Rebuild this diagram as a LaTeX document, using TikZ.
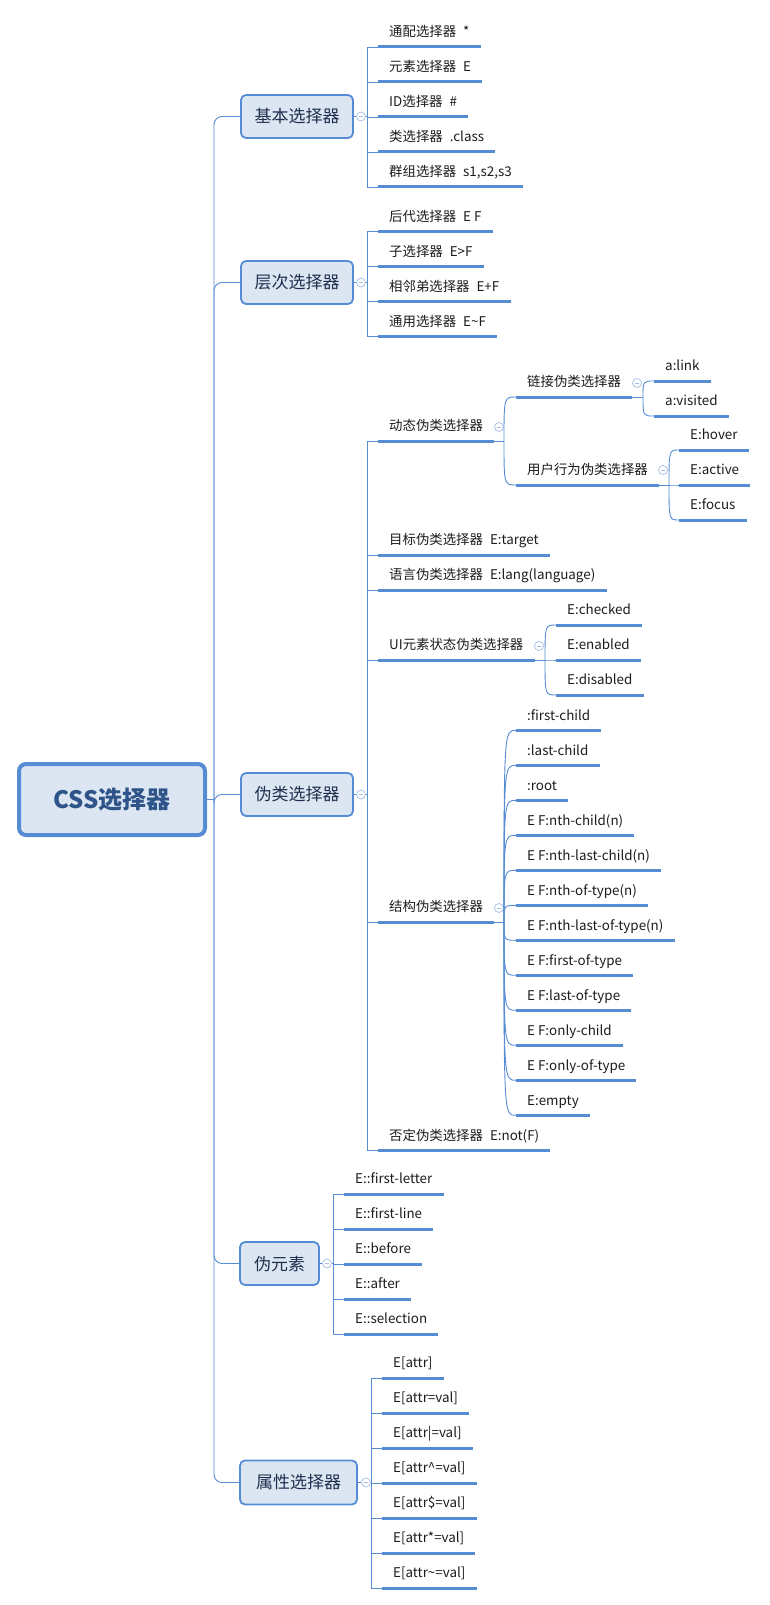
\documentclass[tikz,border=0pt]{standalone}
\usepackage{fontspec}
\setmainfont{Noto Sans CJK SC}

\definecolor{mmline}{RGB}{86,140,212}
\definecolor{mmfill}{RGB}{220,230,242}
\definecolor{mmroot}{RGB}{46,84,138}
\definecolor{mmtopic}{RGB}{30,48,78}
\definecolor{mmfold}{RGB}{165,188,228}
\definecolor{mmtext}{RGB}{28,28,28}

\newcommand\gp{\hspace{7pt}}

\tikzset{
  root/.style={draw=mmline, line width=4pt, fill=mmfill, rounded corners=7pt,
    minimum width=186pt, minimum height=71pt, text=mmroot,
    font=\fontsize{24}{28}\selectfont\bfseries},
  topic/.style={draw=mmline, line width=1.8pt, fill=mmfill, rounded corners=5pt,
    minimum height=43pt, text=mmtopic, font=\fontsize{17}{20}\selectfont},
  leaf/.style={anchor=south west, inner xsep=11pt, inner ysep=0pt, text depth=10pt,
    text=mmtext, font=\fontsize{13.4}{16}\selectfont},
  uline/.style={mmline, line width=3pt},
  branch/.style={mmline, line width=0.9pt},
  fold/.style={circle, draw=mmfold, fill=white, line width=0.7pt, inner sep=0pt,
    minimum size=9pt, path picture={\draw[mmfold, line width=0.7pt]
      ([xshift=-2.2pt]path picture bounding box.center) --
      ([xshift=2.2pt]path picture bounding box.center);}},
  curve/.style={to path={.. controls (\tikztostart |- \tikztotarget) .. (\tikztotarget)}}
}

\begin{document}
\begin{tikzpicture}[x=1pt, y=-1pt]
\useasboundingbox (0,0) rectangle (770,1605);

% root and main topics
\node[root] (css) at (112,799.5) {CSS选择器};
\node[topic, minimum width=112pt] (basic) at (297,116.5) {基本选择器};
\node[topic, minimum width=112pt] (level) at (297,282.5) {层次选择器};
\node[topic, minimum width=112pt] (pclass) at (297,794.5) {伪类选择器};
\node[topic, minimum width=79pt] (pelem) at (279.5,1263.5) {伪元素};
\node[topic, minimum width=117pt, minimum height=44pt] (attr) at (298.5,1482.5) {属性选择器};

% trunk
\coordinate (t0) at (214,799.5);
\draw[branch] (css) -- (t0);
\foreach \n in {basic,level,pclass,pelem,attr}
  \draw[branch, rounded corners=8pt] (t0) |- (\n.west);

% fold buttons and joints
\node[fold] (basicf) at (361,116.5) {};
\node[fold] (levelf) at (361,282.5) {};
\node[fold] (pclassf) at (361,794.5) {};
\node[fold] (pelemf) at (327,1263.5) {};
\node[fold] (attrf) at (366,1482.5) {};
\coordinate (basicj) at (367,116.5);
\coordinate (levelj) at (367,282.5);
\coordinate (pclassj) at (367,794.5);
\coordinate (pelemj) at (333,1263.5);
\coordinate (attrj) at (371,1482.5);
\foreach \n in {basic,level,pclass,pelem,attr}
  \draw[branch] (\n) -- (\n f) -- (\n j);

% basic selectors
\foreach \t [count=\i] in {通配选择器\gp *, 元素选择器\gp E, ID选择器\gp \#,
    类选择器\gp .class, {群组选择器\gp s1,s2,s3}} {
  \node[leaf] (basic\i) at (378,12+35*\i) {\t};
  \draw[uline] (basic\i.south west) -- (basic\i.south east);
  \draw[branch] (basicj) |- (basic\i.south west);
}

% level selectors
\foreach \t [count=\i] in {后代选择器\gp E F, 子选择器\gp E>F, 相邻弟选择器\gp E+F,
    通用选择器\gp E\textasciitilde F} {
  \node[leaf] (level\i) at (378,196.5+35*\i) {\t};
  \draw[uline] (level\i.south west) -- (level\i.south east);
  \draw[branch] (levelj) |- (level\i.south west);
}

% pseudo classes
\node[leaf] (dyn) at (378,441) {动态伪类选择器};
\node[leaf] (target) at (378,555) {目标伪类选择器\gp E:target};
\node[leaf] (lang) at (378,590) {语言伪类选择器\gp E:lang(language)};
\node[leaf] (ui) at (378,660) {UI元素状态伪类选择器};
\node[leaf] (struct) at (378,922) {结构伪类选择器};
\node[leaf] (neg) at (378,1150.5) {否定伪类选择器\gp E:not(F)};
\foreach \n in {dyn,target,lang,ui,struct,neg} {
  \draw[uline] (\n.south west) -- (\n.south east);
  \draw[branch] (pclassj) |- (\n.south west);
}

% dynamic pseudo classes
\coordinate (dynj) at (504,441);
\node[fold] (dynf) at (499,427) {};
\draw[branch] (dyn.south east) -- (dynj);
\node[leaf] (link) at (516,397) {链接伪类选择器};
\node[leaf] (user) at (516,485) {用户行为伪类选择器};
\foreach \n in {link,user} {
  \draw[uline] (\n.south west) -- (\n.south east);
  \draw[branch] (dynj) to[curve] (\n.south west);
}

\coordinate (linkj) at (643,397);
\node[fold] (linkf) at (637,383) {};
\draw[branch] (link.south east) -- (linkj);
\foreach \t [count=\i] in {a:link, a:visited} {
  \node[leaf] (link\i) at (654,346+35*\i) {\t};
  \draw[uline] (link\i.south west) -- (link\i.south east);
  \draw[branch] (linkj) to[curve] (link\i.south west);
}

\coordinate (userj) at (669,485);
\node[fold] (userf) at (663,470) {};
\draw[branch] (user.south east) -- (userj);
\foreach \t [count=\i] in {E:hover, E:active, E:focus} {
  \node[leaf] (user\i) at (679,415+35*\i) {\t};
  \draw[uline] (user\i.south west) -- (user\i.south east);
  \draw[branch] (userj) to[curve] (user\i.south west);
}

% UI state pseudo classes
\coordinate (uij) at (545,660);
\node[fold] (uif) at (539,646) {};
\draw[branch] (ui.south east) -- (uij);
\foreach \t [count=\i] in {E:checked, E:enabled, E:disabled} {
  \node[leaf] (ui\i) at (556,590+35*\i) {\t};
  \draw[uline] (ui\i.south west) -- (ui\i.south east);
  \draw[branch] (uij) to[curve] (ui\i.south west);
}

% structural pseudo classes
\coordinate (structj) at (504,922);
\node[fold] (structf) at (499,908) {};
\draw[branch] (struct.south east) -- (structj);
\foreach \t [count=\i] in {:first-child, :last-child, :root, E F:nth-child(n),
    E F:nth-last-child(n), E F:nth-of-type(n), E F:nth-last-of-type(n),
    E F:first-of-type, E F:last-of-type, E F:only-child, E F:only-of-type, E:empty} {
  \node[leaf] (struct\i) at (516,695.3+35*\i) {\t};
  \draw[uline] (struct\i.south west) -- (struct\i.south east);
  \draw[branch] (structj) to[curve] (struct\i.south west);
}

% pseudo elements
\foreach \t [count=\i] in {E::first-letter, E::first-line, E::before, E::after, E::selection} {
  \node[leaf] (pelem\i) at (344,1159+35*\i) {\t};
  \draw[uline] (pelem\i.south west) -- (pelem\i.south east);
  \draw[branch] (pelemj) |- (pelem\i.south west);
}

% attribute selectors
\foreach \t [count=\i] in {E[attr], E[attr=val], E[attr|=val], E[attr\textasciicircum=val],
    E[attr\$=val], E[attr*=val], E[attr\textasciitilde=val]} {
  \node[leaf] (attr\i) at (382,1343+35*\i) {\t};
  \draw[uline] (attr\i.south west) -- (attr\i.south east);
  \draw[branch] (attrj) |- (attr\i.south west);
}
\end{tikzpicture}
\end{document}
